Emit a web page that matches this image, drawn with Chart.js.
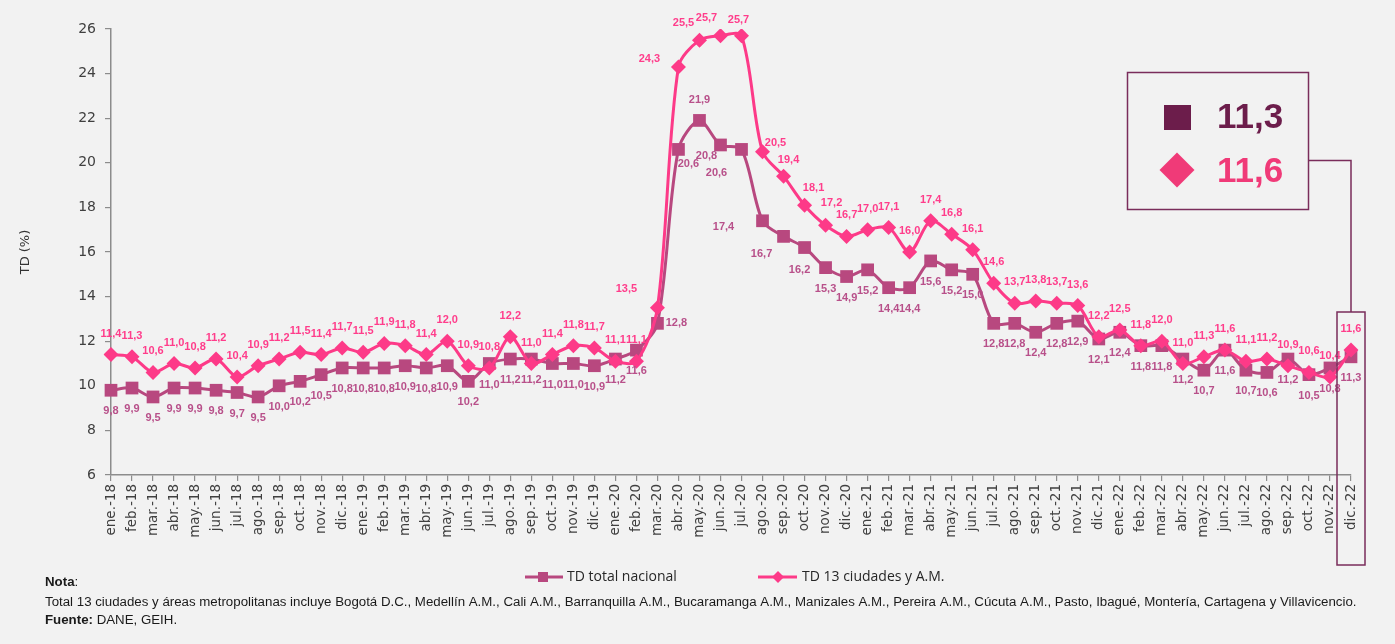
<!DOCTYPE html>
<html>
<head>
<meta charset="utf-8">
<script src="https://cdn.jsdelivr.net/npm/chart.js@4.4.1/dist/chart.umd.min.js"></script>
<style>
  html, body { margin: 0; padding: 0; background: #f2f2f2; }
  #wrap { position: relative; width: 1395px; height: 644px; background: #f2f2f2; }
  canvas { display: block; }
</style>
</head>
<body>
<div id="wrap"><canvas id="c" width="1395" height="644"></canvas></div>
<script>
// ---------------- DATA ----------------
const months = [
  'ene.-18','feb.-18','mar.-18','abr.-18','may.-18','jun.-18','jul.-18','ago.-18','sep.-18','oct.-18','nov.-18','dic.-18',
  'ene.-19','feb.-19','mar.-19','abr.-19','may.-19','jun.-19','jul.-19','ago.-19','sep.-19','oct.-19','nov.-19','dic.-19',
  'ene.-20','feb.-20','mar.-20','abr.-20','may.-20','jun.-20','jul.-20','ago.-20','sep.-20','oct.-20','nov.-20','dic.-20',
  'ene.-21','feb.-21','mar.-21','abr.-21','may.-21','jun.-21','jul.-21','ago.-21','sep.-21','oct.-21','nov.-21','dic.-21',
  'ene.-22','feb.-22','mar.-22','abr.-22','may.-22','jun.-22','jul.-22','ago.-22','sep.-22','oct.-22','nov.-22','dic.-22'
];

const tdNacional = [
  9.8, 9.9, 9.5, 9.9, 9.9, 9.8, 9.7, 9.5, 10.0, 10.2, 10.5, 10.8,
  10.8, 10.8, 10.9, 10.8, 10.9, 10.2, 11.0, 11.2, 11.2, 11.0, 11.0, 10.9,
  11.2, 11.6, 12.8, 20.6, 21.9, 20.8, 20.6, 17.4, 16.7, 16.2, 15.3, 14.9,
  15.2, 14.4, 14.4, 15.6, 15.2, 15.0, 12.8, 12.8, 12.4, 12.8, 12.9, 12.1,
  12.4, 11.8, 11.8, 11.2, 10.7, 11.6, 10.7, 10.6, 11.2, 10.5, 10.8, 11.3
];

const td13Ciudades = [
  11.4, 11.3, 10.6, 11.0, 10.8, 11.2, 10.4, 10.9, 11.2, 11.5, 11.4, 11.7,
  11.5, 11.9, 11.8, 11.4, 12.0, 10.9, 10.8, 12.2, 11.0, 11.4, 11.8, 11.7,
  11.1, 11.1, 13.5, 24.3, 25.5, 25.7, 25.7, 20.5, 19.4, 18.1, 17.2, 16.7,
  17.0, 17.1, 16.0, 17.4, 16.8, 16.1, 14.6, 13.7, 13.8, 13.7, 13.6, 12.2,
  12.5, 11.8, 12.0, 11.0, 11.3, 11.6, 11.1, 11.2, 10.9, 10.6, 10.4, 11.6
];

const seriesNames = ['TD total nacional', 'TD 13 ciudades y A.M.'];
const yMin = 6, yMax = 26, yStep = 2;

// ---------------- STYLE ----------------
const colNac = '#b8487f';
const colNacLabel = '#b8508a';
const col13 = '#fd3a88';
const col13Label = '#ff3d8b';
const boxDark = '#6c1d4b';
const boxPink = '#f03a78';

// label placement tweaks (dx, dy in px relative to point) – styling only
const labelTweakNac = {26: [19, 0], 27: [10, 15], 28: [0, -20], 29: [-14, 11], 30: [-25, 24], 31: [-39, 6], 32: [-22, 18], 33: [-5, 22]};
const labelTweak13 = {26: [-31, -19], 27: [-29, -8], 28: [-16, -17], 29: [-14, -18], 30: [-3, -16], 31: [13, -9], 32: [5, -16], 33: [9, -17], 34: [6, -22]};

const fmt = v => v.toFixed(1).replace('.', ',');

function drawDiamond(ctx, x, y, r, color) {
  ctx.beginPath();
  ctx.moveTo(x, y - r); ctx.lineTo(x + r, y); ctx.lineTo(x, y + r); ctx.lineTo(x - r, y);
  ctx.closePath();
  ctx.fillStyle = color; ctx.fill();
}

const annotPlugin = {
  id: 'annot',
  afterDatasetsDraw(chart) {
    const ctx = chart.ctx;
    ctx.save();
    ctx.font = 'bold 11px "Liberation Sans Narrow", "Liberation Sans", sans-serif';
    ctx.textAlign = 'center';
    ctx.textBaseline = 'middle';
    chart.data.datasets.forEach((ds, i) => {
      const meta = chart.getDatasetMeta(i);
      const below = ds.labelBelow;
      const tweaks = below ? labelTweakNac : labelTweak13;
      ctx.fillStyle = ds.labelColor;
      meta.data.forEach((pt, j) => {
        const t = tweaks[j] || [0, below ? 21 : -21];
        ctx.fillText(fmt(ds.data[j]), pt.x + t[0], pt.y + t[1]);
      });
    });
    ctx.restore();
  },
  afterDraw(chart) {
    const ctx = chart.ctx;
    const xs = chart.scales.x;
    const lastIdx = months.length - 1;
    const lastX = xs.getPixelForValue(lastIdx);
    ctx.save();

    // highlight rectangle around last month
    ctx.strokeStyle = '#7a2d5b';
    ctx.lineWidth = 1.5;
    ctx.strokeRect(lastX - 14, 312, 28, 253);

    // callout box
    ctx.strokeRect(1127.5, 72.5, 181, 137);
    ctx.beginPath();
    ctx.moveTo(1308.5, 160.5);
    ctx.lineTo(lastX, 160.5);
    ctx.lineTo(lastX, 312);
    ctx.stroke();

    ctx.fillStyle = boxDark;
    ctx.fillRect(1164, 105, 27, 25);
    drawDiamond(ctx, 1177, 170, 17.5, boxPink);
    ctx.font = 'bold 35px "Liberation Sans", Arial, sans-serif';
    ctx.textAlign = 'left';
    ctx.textBaseline = 'alphabetic';
    ctx.fillStyle = boxDark;
    ctx.fillText(fmt(tdNacional[lastIdx]), 1217, 128);
    ctx.fillStyle = boxPink;
    ctx.fillText(fmt(td13Ciudades[lastIdx]), 1217, 182);

    // legend
    ctx.lineWidth = 3;
    ctx.strokeStyle = colNac;
    ctx.beginPath(); ctx.moveTo(525, 577); ctx.lineTo(563, 577); ctx.stroke();
    ctx.fillStyle = colNac;
    ctx.fillRect(538, 572, 10, 10);
    ctx.strokeStyle = col13;
    ctx.beginPath(); ctx.moveTo(758, 577); ctx.lineTo(797, 577); ctx.stroke();
    drawDiamond(ctx, 778, 577, 6, col13);
    ctx.font = '14px "Open Sans", sans-serif';
    ctx.fillStyle = '#262626';
    ctx.textBaseline = 'middle';
    ctx.fillText(seriesNames[0], 567, 577);
    ctx.fillText(seriesNames[1], 802, 577);

    // notes
    const note = 'Total 13 ciudades y áreas metropolitanas incluye Bogotá D.C., Medellín A.M., Cali A.M., Barranquilla A.M., Bucaramanga A.M., Manizales A.M., Pereira A.M., Cúcuta A.M., Pasto, Ibagué, Montería, Cartagena y Villavicencio.';
    const fam = '"Liberation Sans", Arial, sans-serif';
    ctx.font = '12px ' + fam;
    const w12 = ctx.measureText(note).width;
    const fs = (12 * 1312 / w12).toFixed(2);
    ctx.fillStyle = '#1a1a1a';
    ctx.font = 'bold ' + fs + 'px ' + fam;
    ctx.fillText('Nota', 45, 582);
    const wn = ctx.measureText('Nota').width;
    ctx.font = fs + 'px ' + fam;
    ctx.fillText(':', 45 + wn, 582);
    ctx.fillText(note, 45, 602);
    ctx.font = 'bold ' + fs + 'px ' + fam;
    ctx.fillText('Fuente:', 45, 620);
    const wf = ctx.measureText('Fuente: ').width;
    ctx.font = fs + 'px ' + fam;
    ctx.fillText('DANE, GEIH.', 45 + wf, 620);
    ctx.restore();
  }
};

const chart = new Chart(document.getElementById('c'), {
  type: 'line',
  data: {
    labels: months,
    datasets: [
      {
        label: seriesNames[0],
        data: tdNacional,
        borderColor: colNac,
        backgroundColor: colNac,
        borderWidth: 3,
        pointStyle: 'rect',
        pointRadius: 9,
        pointBorderWidth: 0,
        pointBackgroundColor: colNac,
        tension: 0.3,
        order: 2,
        labelBelow: true,
        labelColor: colNacLabel
      },
      {
        label: seriesNames[1],
        data: td13Ciudades,
        borderColor: col13,
        backgroundColor: col13,
        borderWidth: 3,
        pointStyle: 'rectRot',
        pointRadius: 7.5,
        pointBorderWidth: 0,
        pointBackgroundColor: col13,
        tension: 0.3,
        order: 1,
        labelBelow: false,
        labelColor: col13Label
      }
    ]
  },
  options: {
    responsive: false,
    animation: false,
    devicePixelRatio: 1,
    layout: { padding: { left: 0, top: 29, right: 44, bottom: 0 } },
    plugins: {
      legend: { display: false },
      tooltip: { enabled: false }
    },
    scales: {
      x: {
        offset: false,
        grid: { display: true, drawOnChartArea: false, drawTicks: true, tickLength: 6, color: '#8c8c8c', lineWidth: 1.2 },
        border: { display: true, color: '#8c8c8c', width: 1.5 },
        ticks: {
          autoSkip: false,
          maxRotation: 90,
          minRotation: 90,
          padding: 3,
          color: '#404040',
          font: { family: '"DejaVu Sans", sans-serif', size: 13.5 }
        },
        afterFit(s) { s.height = 169; }
      },
      y: {
        min: yMin,
        max: yMax,
        grid: { display: true, drawOnChartArea: false, drawTicks: true, tickLength: 6, color: '#8c8c8c', lineWidth: 1.2 },
        border: { display: true, color: '#8c8c8c', width: 1.5 },
        ticks: {
          stepSize: yStep,
          padding: 9,
          color: '#404040',
          font: { family: '"DejaVu Sans", sans-serif', size: 14 }
        },
        title: {
          display: true,
          text: 'TD (%)',
          color: '#333333',
          font: { family: '"DejaVu Sans", sans-serif', size: 13 },
          padding: { top: 18, bottom: 0 }
        },
        afterFit(s) { s.width = 111; }
      }
    }
  },
  plugins: [annotPlugin]
});
</script>
</body>
</html>
